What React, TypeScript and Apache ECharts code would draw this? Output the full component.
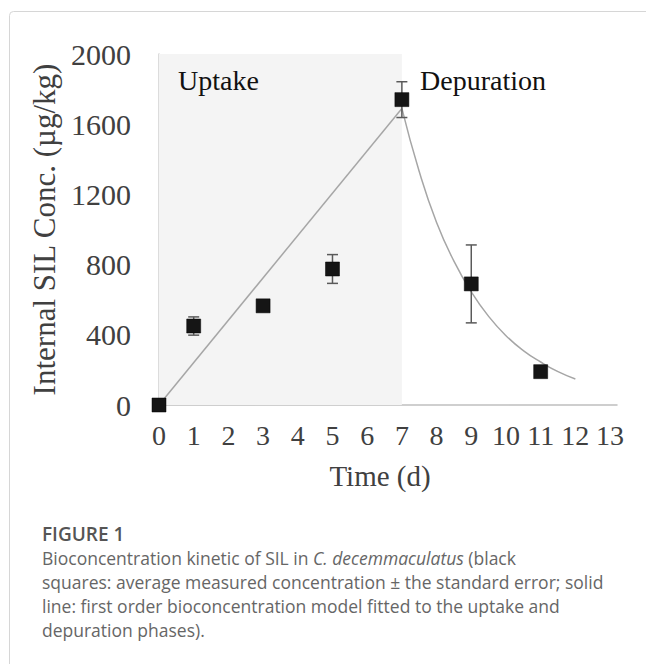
import React, { useEffect, useRef } from "react";
import * as echarts from "echarts";

const sampleDays = [0, 1, 3, 5, 7, 9, 11];
const meanConc = [0, 450, 565, 775, 1740, 690, 190];
const stdErr = [10, 52, 12, 82, 102, 222, 10];

const uptakeDays = [0, 7];
const uptakeModel = [0, 1690];

const depurationDays = [7, 7.5, 8, 8.5, 9, 9.5, 10, 10.5, 11, 11.5, 12];
const depurationModel = [1690, 1330, 1040, 820, 645, 505, 395, 310, 245, 190, 148];

const yTicks = [0, 400, 800, 1200, 1600, 2000];
const xTickMax = 13;

const SERIF = "'Liberation Serif', 'Times New Roman', serif";
const SANS = "'Open Sans', 'Noto Sans', sans-serif";

export default function App() {
  const ref = useRef<HTMLDivElement>(null);
  useEffect(() => {
    if (!ref.current) return;
    const chart = echarts.init(ref.current, undefined, { renderer: "svg" });
    const points = sampleDays.map((d, i) => [d, meanConc[i]]);
    const bars = sampleDays.map((d, i) => [d, meanConc[i] - stdErr[i], meanConc[i] + stdErr[i]]);
    chart.setOption({
      animation: false,
      backgroundColor: "#ffffff",
      grid: { left: 159, right: 29, top: 54, bottom: 259 },
      xAxis: {
        type: "value",
        min: 0,
        max: 13.2,
        interval: 1,
        name: "Time (d)",
        nameLocation: "middle",
        nameGap: 56,
        nameTextStyle: { fontFamily: SERIF, fontSize: 29, color: "#404040", padding: [0, 16, 0, 0] },
        axisLine: { show: true, lineStyle: { color: "#bfbfbf", width: 1.5 } },
        axisTick: { show: false },
        splitLine: { show: false },
        axisLabel: {
          fontFamily: SERIF,
          fontSize: 28,
          color: "#404040",
          margin: 16,
          formatter: (v: number) => (Number.isInteger(v) && v <= xTickMax ? String(v) : ""),
        },
      },
      yAxis: {
        type: "value",
        min: yTicks[0],
        max: yTicks[yTicks.length - 1],
        interval: 400,
        name: "Internal SIL Conc. (µg/kg)",
        nameLocation: "middle",
        nameGap: 95,
        nameTextStyle: { fontFamily: SERIF, fontSize: 31, color: "#404040" },
        axisLine: { show: true, lineStyle: { color: "#d0d0d0", width: 1.5 } },
        axisTick: { show: false },
        splitLine: { show: false },
        axisLabel: {
          fontFamily: SERIF,
          fontSize: 30,
          color: "#404040",
          margin: 28,
          formatter: (v: number) => String(v),
        },
      },
      graphic: [
        {
          type: "rect",
          z: 100,
          shape: { x: 9.5, y: 11.5, width: 720, height: 720, r: 4 },
          style: { fill: "none", stroke: "#d6d6d6", lineWidth: 1 },
          silent: true,
        },
        {
          type: "text",
          z: 100,
          left: 178,
          top: 66,
          style: { text: "Uptake", fontFamily: SERIF, fontSize: 28, fill: "#111111" },
        },
        {
          type: "text",
          z: 100,
          left: 420,
          top: 66,
          style: { text: "Depuration", fontFamily: SERIF, fontSize: 28, fill: "#111111" },
        },
        {
          type: "text",
          z: 100,
          left: 42,
          top: 524,
          style: { text: "FIGURE 1", fontFamily: SANS, fontSize: 19, fontWeight: 600, fill: "#555555" },
        },
        {
          type: "text",
          z: 100,
          left: 42,
          top: 546,
          style: {
            text:
              "{n|Bioconcentration kinetic of SIL in }{i|C. decemmaculatus}{n| (black}\n" +
              "{n|squares: average measured concentration ± the standard error; solid}\n" +
              "{n|line: first order bioconcentration model fitted to the uptake and}\n" +
              "{n|depuration phases).}",
            fontFamily: SANS,
            fontSize: 17.5,
            fill: "#666666",
            lineHeight: 24,
            rich: {
              n: { fontFamily: SANS, fontSize: 17.5, fill: "#666666", lineHeight: 24 },
              i: { fontFamily: SANS, fontSize: 17.5, fill: "#666666", fontStyle: "italic", lineHeight: 24 },
            },
          },
        },
      ],
      series: [
        {
          type: "line",
          data: uptakeDays.map((d, i) => [d, uptakeModel[i]]),
          showSymbol: false,
          lineStyle: { color: "#a6a6a6", width: 1.5 },
          z: 2,
          markArea: {
            silent: true,
            itemStyle: { color: "#f4f4f4" },
            data: [[{ coord: [0, 0] }, { coord: [7, 2000] }]],
          },
        },
        {
          type: "line",
          data: depurationDays.map((d, i) => [d, depurationModel[i]]),
          showSymbol: false,
          smooth: true,
          lineStyle: { color: "#a6a6a6", width: 1.5 },
          z: 2,
        },
        {
          type: "custom",
          data: bars,
          z: 3,
          renderItem: (params: any, api: any) => {
            const x = api.value(0);
            const top = api.coord([x, api.value(2)]);
            const bot = api.coord([x, api.value(1)]);
            const w = 5.5;
            const style = { stroke: "#5a5a5a", lineWidth: 1.5 };
            return {
              type: "group",
              children: [
                { type: "line", shape: { x1: top[0], y1: top[1], x2: bot[0], y2: bot[1] }, style },
                { type: "line", shape: { x1: top[0] - w, y1: top[1], x2: top[0] + w, y2: top[1] }, style },
                { type: "line", shape: { x1: bot[0] - w, y1: bot[1], x2: bot[0] + w, y2: bot[1] }, style },
              ],
            };
          },
        },
        {
          type: "scatter",
          data: points,
          symbol: "rect",
          symbolSize: 14,
          itemStyle: { color: "#151515", borderColor: "#000000", borderWidth: 0.5, opacity: 1 },
          z: 4,
        },
      ],
    });
    return () => chart.dispose();
  }, []);
  return (
    <div
      ref={ref}
      style={{ position: "fixed", left: 0, top: 0, width: 646, height: 664, background: "#fff" }}
    />
  );
}
